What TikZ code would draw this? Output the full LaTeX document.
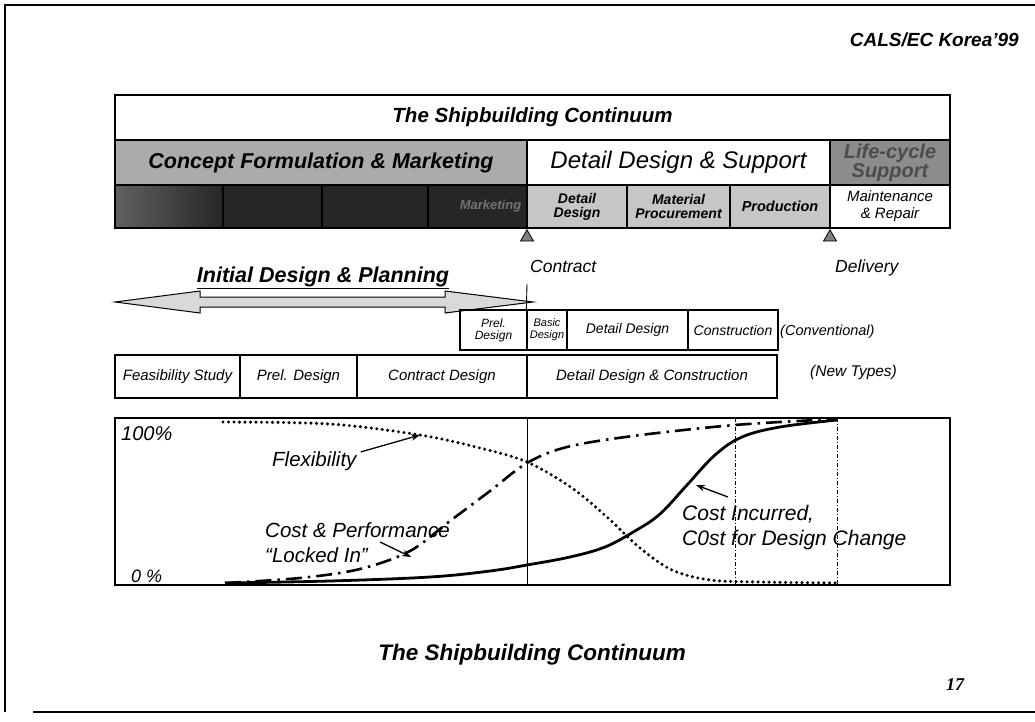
\documentclass[tikz,border=0pt]{standalone}
\usepackage{fontspec}
\setmainfont{Liberation Sans}
\newfontfamily\numfont{Liberation Serif}
\usetikzlibrary{shapes.geometric,arrows.meta}
\definecolor{conceptgray}{HTML}{ABABAB}
\definecolor{subgray}{HTML}{C6C6C6}
\definecolor{darkcell}{HTML}{262626}
\definecolor{lifegray}{HTML}{8C8C8C}
\definecolor{arrowgray}{HTML}{D9D9D9}
\newcommand{\fsz}[2]{\fontsize{#1}{#2}\selectfont}
\tikzset{
  cell/.style={draw=black, line width=1.3pt, inner sep=0pt, align=center, font=\itshape},
  darkbox/.style={cell, fill=darkcell, minimum height=43},
  subbox/.style={cell, fill=subgray, minimum height=43, font=\bfseries\itshape\fsz{14}{14}},
  convbox/.style={cell, minimum height=40, font=\itshape\fsz{14}{14}},
  newbox/.style={cell, minimum height=43, font=\itshape\fsz{15}{17}},
  marker/.style={regular polygon, regular polygon sides=3, draw=black, fill=gray, line width=0.8pt, minimum size=15pt, inner sep=0pt, anchor=corner 1},
  lbl/.style={inner sep=0pt, align=left},
  pointer/.style={-{Stealth[length=9pt,width=6.5pt]}, line width=1.3pt},
  flexcurve/.style={line width=3.4pt, dash pattern=on 0pt off 5.5pt, line cap=round},
  lockcurve/.style={line width=2.6pt, dash pattern=on 16pt off 6pt on 2.5pt off 6pt},
  costcurve/.style={line width=2.8pt}
}
\begin{document}
\begin{tikzpicture}[x=1pt,y=-1pt]
\useasboundingbox (0,0) rectangle (1035,722);
% page frame
\draw[line width=1.3pt] (5,712) -- (5,5) -- (1035,5);
\draw[line width=1.3pt] (33,712) -- (1035,712);
\node[lbl, anchor=east, font=\bfseries\itshape\fsz{19}{21}] (conf) at (1019,40) {CALS/EC Korea'99};

% header table
\node[cell, minimum width=835, minimum height=45, font=\bfseries\itshape\fsz{20.5}{22}] (title) at (532.5,117.5) {The Shipbuilding Continuum};
\node[cell, fill=conceptgray, minimum width=412, minimum height=45, font=\bfseries\itshape\fsz{21.5}{23}] (concept) at (321,162.5) {Concept Formulation \& Marketing};
\node[cell, minimum width=303, minimum height=45, font=\itshape\fsz{24}{26}] (dds) at (678.5,162.5) {Detail Design \& Support};
\node[cell, fill=lifegray, minimum width=120, minimum height=45, font=\bfseries\itshape\fsz{20}{17}, text=black!70] (life) at (890,162.5) {Life-cycle\\Support};

\node[darkbox, left color=black!62, right color=darkcell, minimum width=108] (d1) at (169,206.5) {};
\node[darkbox, minimum width=99] (d2) at (272.5,206.5) {};
\node[darkbox, minimum width=106] (d3) at (375,206.5) {};
\node[darkbox, minimum width=99, font=\bfseries\itshape\fsz{13}{14}, text=black!55] (d4) at (477.5,206.5) {\hspace*{26pt}Marketing};
\node[subbox, minimum width=100] (s1) at (577,206.5) {Detail\\Design};
\node[subbox, minimum width=103] (s2) at (678.5,206.5) {Material\\Procurement};
\node[subbox, minimum width=100, font=\bfseries\itshape\fsz{14.5}{15}] (s3) at (780,206.5) {Production};
\node[cell, minimum width=120, minimum height=43, font=\itshape\fsz{15}{17}] (s4) at (890,206.5) {Maintenance\\\& Repair};

% milestones
\node[marker] (contractmark) at (527,229) {};
\node[marker] (deliverymark) at (830,229) {};
\node[lbl, anchor=base west, font=\itshape\fsz{17.5}{19}] (contract) at (530,272) {Contract};
\node[lbl, anchor=base west, font=\itshape\fsz{17.5}{19}] (delivery) at (835,272) {Delivery};

% initial design double arrow
\draw[fill=arrowgray, line width=1pt] (115,302) -- (200,291) -- (200,297) -- (445,297) -- (445,291) -- (533,302)
  -- (445,313) -- (445,307) -- (200,307) -- (200,313) -- cycle;
\node[lbl, anchor=base, font=\bfseries\itshape\fsz{21.5}{23}] (initial) at (323,282) {\underline{Initial Design \& Planning}};

% conventional row
\node[convbox, minimum width=67, font=\itshape\fsz{12}{12}] (p1) at (493.5,330) {Prel.\\Design};
\node[convbox, minimum width=40, font=\itshape\fsz{11}{12}] (p2) at (547,330) {Basic\\Design};
\node[convbox, minimum width=121] (p3) at (627.5,330) {Detail Design};
\node[convbox, minimum width=90] (p4) at (733,330) {Construction};
\node[lbl, anchor=west, font=\itshape\fsz{14.5}{16}] (conv) at (780,332) {(Conventional)};
\coordinate (contractline) at (527,284);
\draw[line width=0.9pt] (contractline) -- (p2.north west);

% new types row
\node[newbox, minimum width=125] (n1) at (177.5,376.5) {Feasibility Study};
\node[newbox, minimum width=117] (n2) at (298.5,376.5) {Prel. Design};
\node[newbox, minimum width=170] (n3) at (442,376.5) {Contract Design};
\node[newbox, minimum width=250] (n4) at (652,376.5) {Detail Design \& Construction};
\node[lbl, anchor=west, font=\itshape\fsz{15.5}{17}] (newt) at (810,372) {(New Types)};

% chart
\draw[line width=1.3pt] (115,418) rectangle (950,585);
\draw[line width=1pt] (527,418) -- (527,585);
\draw[line width=0.8pt, dash pattern=on 4pt off 2pt on 1pt off 2pt] (735,418) -- (735,585);
\draw[line width=0.8pt, dash pattern=on 4pt off 2pt on 1pt off 2pt] (837,418) -- (837,585);
\node[lbl, anchor=base west, font=\itshape\fsz{20}{22}] (hundred) at (121,440) {100\%};
\node[lbl, anchor=base west, font=\itshape\fsz{18}{20}] (zero) at (131,582) {0 \%};

\draw[flexcurve] plot[smooth, tension=0.55] coordinates {(223,422) (330,424) (420,435) (480,448) (527,462) (572,488) (608,518) (640,548) (672,570) (710,580) (760,582) (837,583)};
\draw[lockcurve] plot[smooth, tension=0.55] coordinates {(225,583) (300,578) (360,569) (410,551) (450,521) (490,491) (527,463) (567,447) (633,436) (735,425) (837,419)};
\draw[costcurve] plot[smooth, tension=0.6] coordinates {(225,583) (330,581) (430,577) (490,571) (527,565) (570,557) (605,547) (635,531) (660,514) (687,485) (715,455) (742,437) (780,427) (837,420)};

\node[lbl, anchor=base west, font=\itshape\fsz{20.5}{22}] (flex) at (272,466) {Flexibility};
\coordinate (flexpt) at (420,435);
\draw[pointer] (flex.north east) ++(4pt,-1pt) coordinate (flextail) (flextail) -- (flexpt);

\node[lbl, anchor=base west, font=\itshape\fsz{20.5}{22}] (lock1) at (265,537) {Cost \& Performance};
\node[lbl, anchor=base west, font=\itshape\fsz{20.5}{22}] (lock2) at (265,562) {“Locked In”};
\coordinate (locktail) at (380,542);
\coordinate (lockpt) at (411,557);
\draw[pointer] (locktail) -- (lockpt);

\node[lbl, anchor=base west, font=\itshape\fsz{21}{23}] (cost1) at (682,520) {Cost Incurred,};
\node[lbl, anchor=base west, font=\itshape\fsz{21}{23}] (cost2) at (682,545) {C0st for Design Change};
\coordinate (costtail) at (728,497);
\coordinate (costpt) at (696,485);
\draw[pointer] (costtail) -- (costpt);

% footer
\node[lbl, anchor=base, font=\bfseries\itshape\fsz{22.5}{24}] (foot) at (532,660) {The Shipbuilding Continuum};
\node[lbl, anchor=base, font=\numfont\bfseries\itshape\fsz{18}{20}] (page) at (955,690) {17};
\end{tikzpicture}
\end{document}
